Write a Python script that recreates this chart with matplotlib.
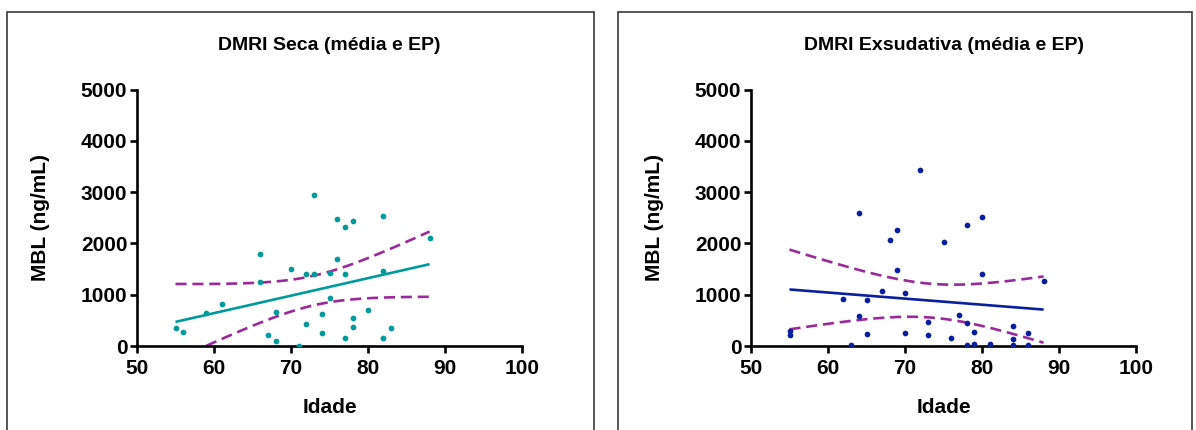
import numpy as np
import matplotlib
matplotlib.use("Agg")
import matplotlib.pyplot as plt
from matplotlib.patches import Rectangle

plt.rcParams['font.family'] = ['Liberation Sans', 'DejaVu Sans']

# ---- data ----
seca_age = [55, 56, 59, 61, 66, 66, 67, 68, 68, 70, 71, 72, 72, 73, 73, 74, 74,
            75, 75, 76, 76, 77, 77, 77, 78, 78, 78, 80, 82, 82, 82, 83, 88]
seca_mbl = [345, 279, 643, 813, 1800, 1253, 214, 656, 97, 1507, 6, 1403, 423,
            2937, 1403, 617, 260, 942, 1429, 2469, 1702, 2326, 1397, 156,
            2443, 540, 377, 702, 2540, 1468, 156, 345, 2111]

exs_age = [55, 55, 62, 63, 64, 64, 65, 65, 67, 68, 69, 69, 70, 70, 72, 73, 73,
           75, 76, 77, 78, 78, 78, 79, 79, 80, 80, 81, 84, 84, 84, 86, 86, 88]
exs_mbl = [287, 221, 918, 14, 2592, 592, 898, 228, 1074, 2076, 2252, 1478,
           1035, 260, 3431, 475, 209, 2037, 162, 599, 2350, 449, 14, 279, 45,
           2506, 1406, 33, 396, 131, 20, 254, 20, 1275]

titles = ["DMRI Seca (média e EP)", "DMRI Exsudativa (média e EP)"]
x_label = "Idade"
y_label = "MBL (ng/mL)"
x_ticks = [50, 60, 70, 80, 90, 100]
y_ticks = [0, 1000, 2000, 3000, 4000, 5000]

point_colors = ["#009A9A", "#0B1F9C"]
band_color = "#9A2A9A"


def t_crit(df):
    z = 1.959964
    return (z + (z**3 + z) / (4 * df) + (5 * z**5 + 16 * z**3 + 3 * z) / (96 * df**2)
            + (3 * z**7 + 19 * z**5 + 17 * z**3 - 15 * z) / (384 * df**3))


def fit(x, y):
    x = np.asarray(x, float)
    y = np.asarray(y, float)
    n = len(x)
    b, a = np.polyfit(x, y, 1)
    res = y - (a + b * x)
    s = np.sqrt(np.sum(res**2) / (n - 2))
    xm = x.mean()
    sxx = np.sum((x - xm) ** 2)
    xs = np.linspace(x.min(), x.max(), 200)
    yh = a + b * xs
    half = t_crit(n - 2) * s * np.sqrt(1.0 / n + (xs - xm) ** 2 / sxx)
    return xs, yh, yh - half, yh + half


W, H = 1196, 430
fig = plt.figure(figsize=(W / 100, H / 100), dpi=100)

# panel frames
for x0, x1 in [(7, 594), (618, 1192)]:
    fig.add_artist(Rectangle((x0 / W, -0.2), (x1 - x0) / W, (H - 12) / H + 0.2,
                             transform=fig.transFigure, fill=False,
                             edgecolor="#3a3a3a", linewidth=1.2))

axes_left = [137, 751]
datasets = [(seca_age, seca_mbl), (exs_age, exs_mbl)]

for i in range(2):
    ax = fig.add_axes([axes_left[i] / W, (H - 346) / H, 385 / W, 256.5 / H])
    xs_, ys_ = datasets[i]
    ax.scatter(xs_, ys_, s=17, color=point_colors[i], zorder=3, linewidths=0)
    xs, yh, lo, hi = fit(xs_, ys_)
    ax.plot(xs, yh, color=point_colors[i], lw=1.9, zorder=2, solid_capstyle='butt')
    for band in (lo, hi):
        ax.plot(xs, band, color=band_color, lw=1.9, ls=(0, (4.2, 2.2)), zorder=2)

    ax.set_xlim(50, 100)
    ax.set_ylim(0, 5000)
    ax.set_xticks(x_ticks)
    ax.set_yticks(y_ticks)
    for sp in ("top", "right"):
        ax.spines[sp].set_visible(False)
    for sp in ("left", "bottom"):
        ax.spines[sp].set_linewidth(1.9)
        ax.spines[sp].set_color("black")
    ax.tick_params(direction="out", length=5, width=1.9, labelsize=15)
    ax.tick_params(axis="x", pad=4)
    ax.tick_params(axis="y", pad=2)
    for lab in ax.get_xticklabels() + ax.get_yticklabels():
        lab.set_fontweight("bold")

    ax.set_xlabel(x_label, fontsize=15, fontweight="bold")
    ax.set_ylabel(y_label, fontsize=15, fontweight="bold")
    ax.xaxis.set_label_coords(0.5, -0.238)
    ax.xaxis.label.set_verticalalignment("center")
    ax.yaxis.set_label_coords(-0.25, 0.5)
    ax.yaxis.label.set_verticalalignment("center")

    ax.text(0.5, 1.173, titles[i], transform=ax.transAxes, ha="center",
            va="center", fontsize=14, fontweight="bold")

fig.savefig("out.png", dpi=100)
